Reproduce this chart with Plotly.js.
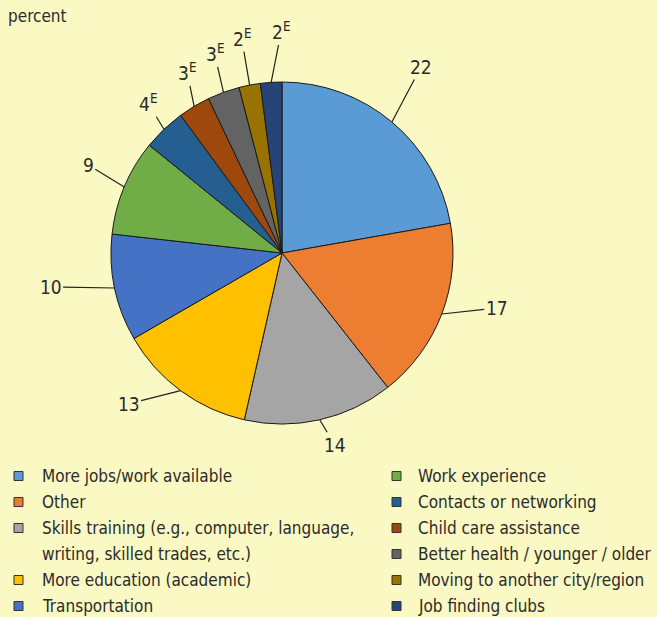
<!DOCTYPE html>
<html>
<head>
<meta charset="utf-8">
<script src="https://cdn.plot.ly/plotly-3.0.1.min.js"></script>
<style>
html,body{margin:0;padding:0;background:#FAF8C3;}
#chart{width:657px;height:617px;}
</style>
</head>
<body>
<div id="chart"></div>
<script>
// ---- data ----
const categories = [
  "More jobs/work available",
  "Other",
  "Skills training (e.g., computer, language,<br>writing, skilled trades, etc.)",
  "More education (academic)",
  "Transportation",
  "Work experience",
  "Contacts or networking",
  "Child care assistance",
  "Better health / younger / older",
  "Moving to another city/region",
  "Job finding clubs"
];
const values = [22, 17, 14, 13, 10, 9, 4, 3, 3, 2, 2];
const valueLabels = ["22", "17", "14", "13", "10", "9", "4<sup>E</sup>", "3<sup>E</sup>", "3<sup>E</sup>", "2<sup>E</sup>", "2<sup>E</sup>"];
const colors = ["#5B9BD5", "#ED7D31", "#A5A5A5", "#FFC000", "#4472C4", "#70AD47",
                "#255E91", "#9E480E", "#636363", "#997300", "#264478"];

// ---- layout config (label offsets in px from slice edge) ----
const labelOffsets = [[29,-55],[55,-6],[15,25],[-52,13],[-64,-1],[-36,-22],[-16,-26],[-7,-34],[-9,-39],[-8,-47],[10,-51]];

const W = 657, H = 617;
const FONT = "'DejaVu Sans Condensed', 'Liberation Sans Narrow', sans-serif";
const TXT = "#2b2b2b";
const domX = [111/W, 453/W];
const domY = [1 - 424/H, 1 - 82/H];

const cx = (domX[0]+domX[1])/2*W;
const cy = (1-(domY[0]+domY[1])/2)*H;
const R = Math.min((domX[1]-domX[0])*W, (domY[1]-domY[0])*H)/2;

const total = values.reduce((a,b)=>a+b,0);
const annotations = [];
const shapes = [];

// value labels with leader lines
let cum = 0;
values.forEach((v,i)=>{
  const mid = (cum + v/2)/total * 2*Math.PI;
  cum += v;
  const px = cx + R*Math.sin(mid);
  const py = cy - R*Math.cos(mid);
  annotations.push({
    x: px/W, y: 1-py/H, xref:'paper', yref:'paper',
    text: valueLabels[i], showarrow:true, arrowhead:0, arrowwidth:1.2,
    arrowcolor:'#222', ax: labelOffsets[i][0], ay: labelOffsets[i][1],
    standoff:0, startstandoff:0,
    font:{family:FONT, size:19, color:TXT}
  });
});

// title
annotations.push({x:6/W, y:1-16/H, xref:'paper', yref:'paper', xanchor:'left', yanchor:'middle',
  text:'percent', showarrow:false, font:{family:FONT, size:17, color:TXT}});

// custom two-column legend
const columns = [{sq:18.5, tx:40, items:[0,1,2,3,4]}, {sq:396.5, tx:416, items:[5,6,7,8,9,10]}];
const row0 = 476, rowStep = 26;
columns.forEach(col=>{
  let row = 0;
  col.items.forEach(i=>{
    const lines = categories[i].split('<br>');
    const yc = row0 + row*rowStep;
    shapes.push({type:'rect', xref:'paper', yref:'paper',
      x0:(col.sq-4.5)/W, x1:(col.sq+4.5)/W, y0:1-(yc+4.5)/H, y1:1-(yc-4.5)/H,
      fillcolor:colors[i], line:{color:'#333', width:1}});
    lines.forEach((ln,k)=>{
      annotations.push({x:col.tx/W, y:1-(yc+k*rowStep)/H, xref:'paper', yref:'paper',
        xanchor:'left', yanchor:'middle', text:ln, showarrow:false,
        font:{family:FONT, size:17, color:TXT}});
    });
    row += lines.length;
  });
});

const trace = {
  type:'pie', values: values, labels: categories,
  sort:false, direction:'clockwise', rotation:0,
  marker:{colors: colors, line:{color:'#1a1a1a', width:1}},
  textinfo:'none', hoverinfo:'label+value',
  domain:{x:domX, y:domY}, showlegend:false
};

Plotly.newPlot('chart', [trace], {
  width:W, height:H, margin:{l:0,r:0,t:0,b:0},
  paper_bgcolor:'#FAF8C3', plot_bgcolor:'#FAF8C3',
  showlegend:false, annotations: annotations, shapes: shapes
}, {displayModeBar:false, staticPlot:true});
</script>
</body>
</html>
